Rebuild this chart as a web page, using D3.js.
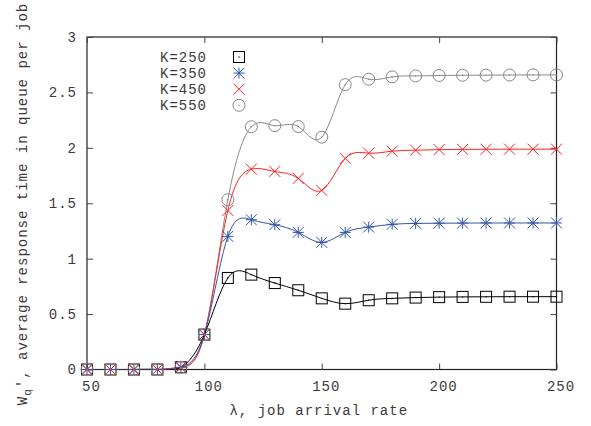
<!DOCTYPE html>
<html><head><meta charset="utf-8">
<script src="https://cdn.jsdelivr.net/npm/d3@7"></script>
<style>
html,body{margin:0;padding:0;background:#fff;}
text{font-family:"Liberation Mono","DejaVu Sans Mono",monospace;font-size:14px;letter-spacing:1px;fill:#3a3a3a;}
</style></head>
<body><svg id="c" width="591" height="426"></svg>
<script>
const lambdas = [50,60,70,80,90,100,110,120,130,140,150,160,170,180,190,200,210,220,230,240,250];
const k250 = [0,0,0,0,0.02,0.315,0.826,0.856,0.78,0.715,0.642,0.594,0.625,0.642,0.649,0.653,0.655,0.656,0.657,0.657,0.657];
const k350 = [0,0,0,0,0.02,0.315,1.201,1.351,1.306,1.237,1.147,1.237,1.285,1.31,1.318,1.32,1.321,1.322,1.322,1.322,1.322];
const k450 = [0,0,0,0,0.02,0.315,1.435,1.808,1.787,1.724,1.616,1.904,1.952,1.970,1.979,1.984,1.986,1.987,1.988,1.988,1.988];
const k550 = [0,0,0,0,0.02,0.315,1.532,2.19,2.2,2.192,2.096,2.570,2.619,2.64,2.649,2.653,2.655,2.656,2.657,2.658,2.658];
const seriesNames = ["K=250","K=350","K=450","K=550"];
const xTicks = [50,100,150,200,250];
const yTicks = [0,0.5,1,1.5,2,2.5,3];

const series = [
  {name:seriesNames[0], values:k250, color:"#000000", marker:"square"},
  {name:seriesNames[1], values:k350, color:"#3355aa", marker:"star"},
  {name:seriesNames[2], values:k450, color:"#ff2222", marker:"x"},
  {name:seriesNames[3], values:k550, color:"#888888", marker:"circle"}
];

const L=87, R=556.5, T=37, B=369.5;
const svg = d3.select("#c");
const x = d3.scaleLinear().domain([50,250]).range([L,R]);
const y = d3.scaleLinear().domain([0,3]).range([B,T]);

// frame
svg.append("rect").attr("x",L).attr("y",T).attr("width",R-L).attr("height",B-T)
  .attr("fill","none").attr("stroke","#222").attr("stroke-width",1.2);

// axes with inward ticks
const ax = svg.append("g").attr("transform",`translate(0,${B})`)
  .call(d3.axisBottom(x).tickValues(xTicks).tickSizeInner(-6).tickSizeOuter(0).tickPadding(12));
ax.selectAll(".tick text").attr("dx",4);
const axTop = svg.append("g").attr("transform",`translate(0,${T})`)
  .call(d3.axisTop(x).tickValues(xTicks).tickSizeInner(-6).tickSizeOuter(0).tickFormat(""));
const ay = svg.append("g").attr("transform",`translate(${L},0)`)
  .call(d3.axisLeft(y).tickValues(yTicks).tickFormat(d3.format("")).tickSizeInner(-6).tickSizeOuter(0).tickPadding(10));
const ayR = svg.append("g").attr("transform",`translate(${R},0)`)
  .call(d3.axisRight(y).tickValues(yTicks).tickSizeInner(-6).tickSizeOuter(0).tickFormat(""));
[ax,axTop,ay,ayR].forEach(g=>{
  g.select(".domain").remove();
  g.selectAll(".tick line").attr("stroke","#444");
  g.selectAll("text").attr("font-family",null).attr("font-size",null).attr("fill",null);
});

// axis labels
svg.append("text").attr("x",(L+R)/2-3).attr("y",415).attr("text-anchor","middle").text("λ, job arrival rate");
const yl = svg.append("text").attr("transform","translate(27,204) rotate(-90)").attr("text-anchor","middle");
yl.append("tspan").text("W");
yl.append("tspan").attr("dy",4).attr("font-size","11px").text("q");
yl.append("tspan").attr("dy",-4).text("', average response time in queue per job");

// lines
const line = d3.line().x((d,i)=>x(lambdas[i])).y(d=>y(d)).curve(d3.curveNatural);
svg.append("clipPath").attr("id","pc").append("rect").attr("x",L).attr("y",T).attr("width",R-L).attr("height",B-T);
series.slice().reverse().forEach(s=>{
  svg.append("path").attr("d",line(s.values)).attr("fill","none")
    .attr("stroke",s.color).attr("stroke-width",1).attr("clip-path","url(#pc)");
});

function drawMarker(g, type, cx, cy, color){
  const r=5.5;
  if(type==="square"){
    g.append("rect").attr("x",cx-r).attr("y",cy-r).attr("width",2*r).attr("height",2*r)
      .attr("fill","none").attr("stroke",color).attr("stroke-width",1);
    g.append("circle").attr("cx",cx).attr("cy",cy).attr("r",0.7).attr("fill",color);
  } else if(type==="circle"){
    g.append("circle").attr("cx",cx).attr("cy",cy).attr("r",r+0.5)
      .attr("fill","none").attr("stroke",color).attr("stroke-width",1);
    g.append("circle").attr("cx",cx).attr("cy",cy).attr("r",0.7).attr("fill",color);
  } else if(type==="x"){
    g.append("path").attr("d",`M${cx-r},${cy-r}L${cx+r},${cy+r}M${cx-r},${cy+r}L${cx+r},${cy-r}`)
      .attr("stroke",color).attr("stroke-width",1).attr("fill","none");
  } else if(type==="star"){
    g.append("path").attr("d",`M${cx-r},${cy-r}L${cx+r},${cy+r}M${cx-r},${cy+r}L${cx+r},${cy-r}M${cx-r},${cy}L${cx+r},${cy}M${cx},${cy-r}L${cx},${cy+r}`)
      .attr("stroke",color).attr("stroke-width",1).attr("fill","none");
  }
}

const mg = svg.append("g");
series.forEach(s=>{
  s.values.forEach((v,i)=>drawMarker(mg, s.marker, x(lambdas[i]), y(v), s.color));
});

// legend
const lg = svg.append("g");
series.forEach((s,i)=>{
  const yy = 57 + i*16.1;
  lg.append("text").attr("x",160).attr("y",yy+5).text(s.name);
  drawMarker(lg, s.marker, 239, yy, s.color);
});
</script></body></html>
